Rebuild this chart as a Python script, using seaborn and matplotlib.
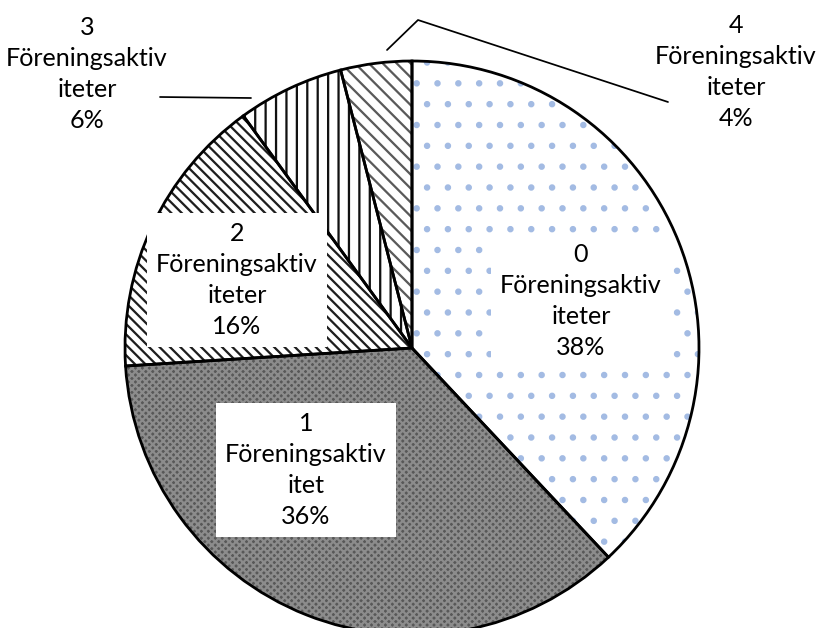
import matplotlib
matplotlib.use("Agg")
import matplotlib.pyplot as plt
import seaborn as sns

# ---- data ----
categories = ["0\nFöreningsaktiv\niteter", "1\nFöreningsaktiv\nitet",
              "2\nFöreningsaktiv\niteter", "3\nFöreningsaktiv\niteter",
              "4\nFöreningsaktiv\niteter"]
values = [38, 36, 16, 6, 4]
pct_labels = ["38%", "36%", "16%", "6%", "4%"]

# ---- layout / style ----
W, H, DPI = 816, 628, 125
CX, CY, R = 412, 348, 287
label_pos = [(581, 301), (306, 470), (237, 280), (87, 74), (736, 72)]
label_box = [True, True, True, False, False]
leaders = [[(160, 97), (251, 98)], [(387, 50), (418, 20), (668, 102)]]
faces = ["white", "#585858", "white", "white", "white"]
hatches = [".", "xxxxxx", "\\\\\\\\", "||", "\\\\\\"]
hcolors = ["#a3bbe3", "#8c8c8c", "#1e1e1e", "#111111", "#5a5a5a"]

sns.set_theme(style="white")
plt.rcParams["font.family"] = ["Lato", "DejaVu Sans"]
plt.rcParams["hatch.linewidth"] = 1.3

fig = plt.figure(figsize=(W / DPI, H / DPI), dpi=DPI)
ax = fig.add_axes([0, 0, 1, 1])

wedges, _ = ax.pie(values, startangle=90, counterclock=False,
                   center=(CX, H - CY), radius=R, colors=faces,
                   wedgeprops=dict(linewidth=0))
for w, h, c in zip(wedges, hatches, hcolors):
    w.set_hatch(h)
    w.set_edgecolor(c)
    w.set_linewidth(0)

ax.pie(values, startangle=90, counterclock=False, center=(CX, H - CY),
       radius=R, colors=["none"] * len(values),
       wedgeprops=dict(linewidth=1.6, edgecolor="black"))

for (x, y), cat, pct, box in zip(label_pos, categories, pct_labels, label_box):
    kw = {}
    if box:
        kw["bbox"] = dict(boxstyle="square,pad=0.36", facecolor="white",
                          edgecolor="none")
    ax.text(x, H - y, cat + "\n" + pct, ha="center", va="center",
            fontsize=14.5, color="black", linespacing=1.42, zorder=5, **kw)

for pts in leaders:
    xs = [p[0] for p in pts]
    ys = [H - p[1] for p in pts]
    ax.plot(xs, ys, color="black", linewidth=1.0, zorder=4)

ax.set_xlim(0, W)
ax.set_ylim(0, H)
ax.set_aspect("auto")
ax.axis("off")
fig.savefig("out.png", dpi=DPI, facecolor="white")
